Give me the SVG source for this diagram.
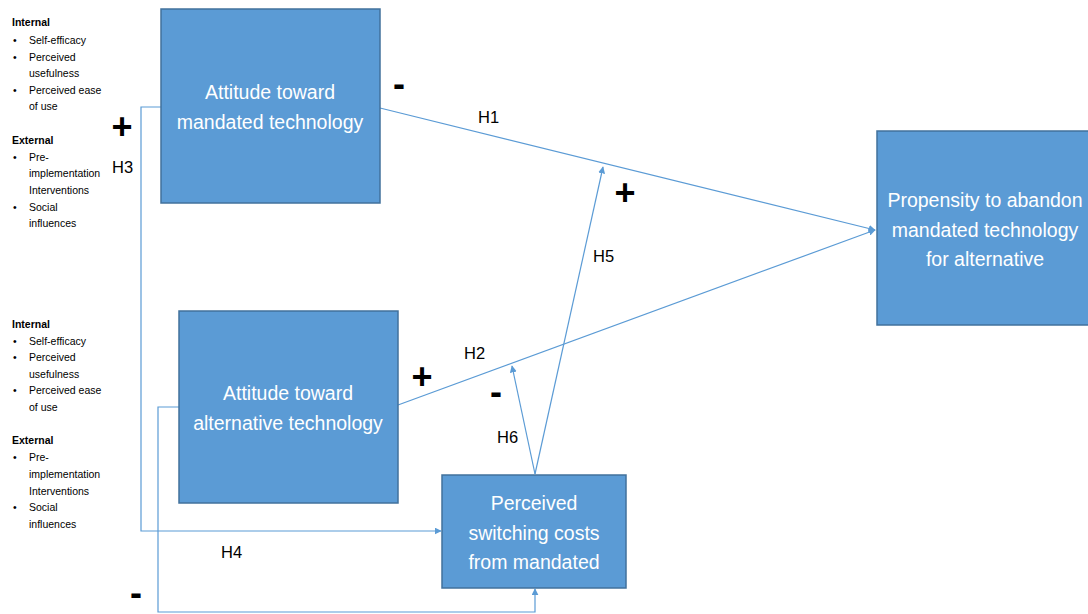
<svg xmlns="http://www.w3.org/2000/svg" width="1088" height="614" viewBox="0 0 1088 614">
  <style>
    .box { fill: #5b9bd5; stroke: #41719c; stroke-width: 1.5; }
    .btxt { font-family: "Liberation Sans", Arial, sans-serif; font-size: 19.5px; fill: #ffffff; text-anchor: middle; }
    .lbl { font-family: "Liberation Sans", Arial, sans-serif; font-size: 16.5px; fill: #000000; }
    .sign { font-family: "Liberation Sans", Arial, sans-serif; font-size: 36px; font-weight: bold; fill: #000000; text-anchor: middle; }
    .list { font-family: "Liberation Sans", Arial, sans-serif; font-size: 10.5px; fill: #000000; }
    .list .hd { font-weight: bold; }
    .conn { fill: none; stroke: #5b9bd5; stroke-width: 1.2; }
  </style>
  <defs>
    <marker id="arrow" viewBox="0 0 10 10" refX="9" refY="5" markerWidth="7" markerHeight="7" markerUnits="userSpaceOnUse" orient="auto">
      <path d="M0,0 L10,5 L0,10 z" fill="#5b9bd5"/>
    </marker>
  </defs>
  <rect width="1088" height="614" fill="#ffffff"/>

  <!-- connectors -->
  <g id="connectors">
    <line class="conn" x1="380" y1="108" x2="875" y2="230" marker-end="url(#arrow)"/>
    <line class="conn" x1="398" y1="405" x2="875" y2="230" marker-end="url(#arrow)"/>
    <line class="conn" x1="535" y1="474" x2="603" y2="167" marker-end="url(#arrow)"/>
    <line class="conn" x1="535" y1="474" x2="512" y2="366" marker-end="url(#arrow)"/>
    <polyline class="conn" points="161,107 141,107 141,531 441,531" marker-end="url(#arrow)"/>
    <polyline class="conn" points="179,407 158,407 158,612 535,612 535,589" marker-end="url(#arrow)"/>
  </g>

  <!-- nodes -->
  <g id="node-mandated">
    <rect class="box" x="161" y="9" width="219" height="194"/>
    <text class="btxt" x="270" y="99">Attitude toward</text>
    <text class="btxt" x="270" y="129">mandated technology</text>
  </g>
  <g id="node-alternative">
    <rect class="box" x="179" y="311" width="219" height="192"/>
    <text class="btxt" x="288" y="400">Attitude toward</text>
    <text class="btxt" x="288" y="430">alternative technology</text>
  </g>
  <g id="node-switching">
    <rect class="box" x="442" y="475" width="184" height="113"/>
    <text class="btxt" x="534" y="510">Perceived</text>
    <text class="btxt" x="534" y="540">switching costs</text>
    <text class="btxt" x="534" y="569">from mandated</text>
  </g>
  <g id="node-propensity">
    <rect class="box" x="877" y="131" width="215" height="194"/>
    <text class="btxt" x="985" y="207">Propensity to abandon</text>
    <text class="btxt" x="985" y="237">mandated technology</text>
    <text class="btxt" x="985" y="266">for alternative</text>
  </g>

  <!-- hypothesis labels and signs -->
  <g id="labels">
    <text class="sign" x="399" y="96">-</text>
    <text class="lbl" x="478" y="123">H1</text>
    <text class="sign" x="625" y="205">+</text>
    <text class="lbl" x="593" y="262">H5</text>
    <text class="sign" x="122" y="139">+</text>
    <text class="lbl" x="112" y="173">H3</text>
    <text class="lbl" x="464" y="359">H2</text>
    <text class="sign" x="422" y="389">+</text>
    <text class="sign" x="496" y="404">-</text>
    <text class="lbl" x="497" y="443">H6</text>
    <text class="lbl" x="221" y="558">H4</text>
    <text class="sign" x="136" y="605">-</text>
  </g>

  <!-- antecedent lists -->
  <g id="list-mandated" class="list">
    <text class="hd" x="12" y="26">Internal</text>
    <text x="13" y="44">•</text><text x="29" y="44">Self-efficacy</text>
    <text x="13" y="61">•</text><text x="29" y="61">Perceived</text>
    <text x="29" y="77">usefulness</text>
    <text x="13" y="94">•</text><text x="29" y="94">Perceived ease</text>
    <text x="29" y="110">of use</text>
    <text class="hd" x="12" y="144">External</text>
    <text x="13" y="161">•</text><text x="29" y="161">Pre-</text>
    <text x="29" y="177">implementation</text>
    <text x="29" y="194">Interventions</text>
    <text x="13" y="211">•</text><text x="29" y="211">Social</text>
    <text x="29" y="227">influences</text>
  </g>
  <g id="list-alternative" class="list">
    <text class="hd" x="12" y="328">Internal</text>
    <text x="13" y="345">•</text><text x="29" y="345">Self-efficacy</text>
    <text x="13" y="361">•</text><text x="29" y="361">Perceived</text>
    <text x="29" y="378">usefulness</text>
    <text x="13" y="394">•</text><text x="29" y="394">Perceived ease</text>
    <text x="29" y="411">of use</text>
    <text class="hd" x="12" y="444">External</text>
    <text x="13" y="461">•</text><text x="29" y="461">Pre-</text>
    <text x="29" y="478">implementation</text>
    <text x="29" y="495">Interventions</text>
    <text x="13" y="511">•</text><text x="29" y="511">Social</text>
    <text x="29" y="528">influences</text>
  </g>
</svg>
